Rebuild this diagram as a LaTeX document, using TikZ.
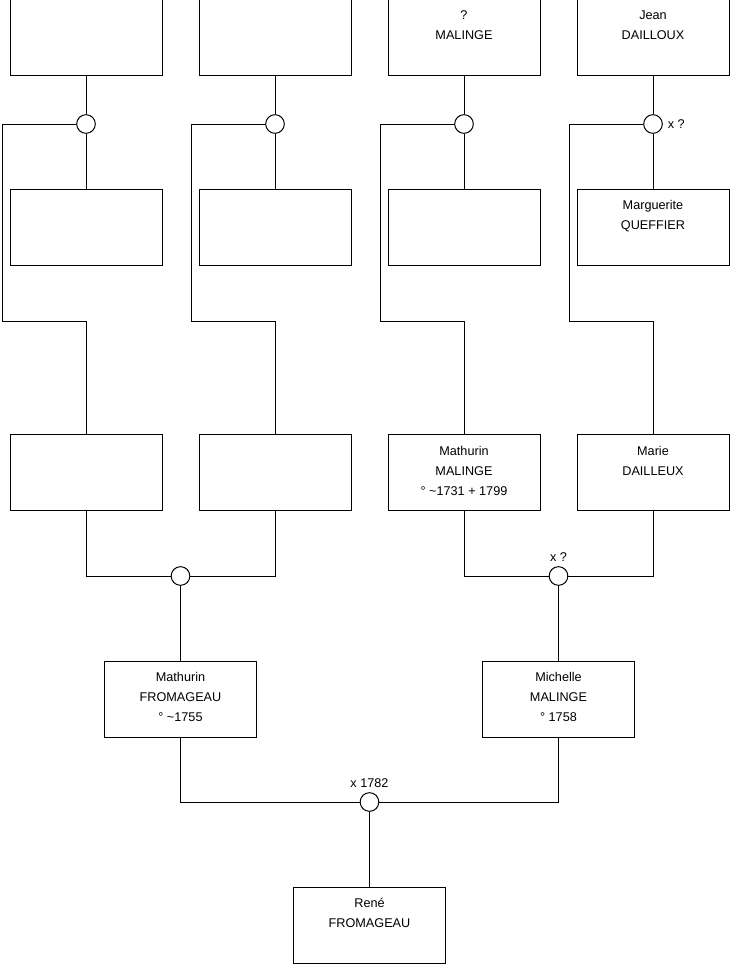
\documentclass[tikz,border=0pt]{standalone}
\usepackage{fontspec}
\setmainfont{Liberation Sans}
\usetikzlibrary{positioning}

\begin{document}
\begin{tikzpicture}[x=0.75pt, y=-0.75pt, line width=0.75pt,
    every node/.style={font=\fontsize{9.5}{15}\selectfont},
    persona/.style={draw, minimum width=114pt, minimum height=57pt, inner sep=0pt},
    testo/.style={anchor=north, align=center, inner sep=0pt, yshift=-8.5pt},
    unione/.style={draw, circle, fill=white, minimum size=14pt, inner sep=0pt}]
        \useasboundingbox (0,0) rectangle (740,975);
        % disegno prima riga
        \node[persona] (a1) at (86,37.5) {};
        \node[persona] (a2) at (275,37.5) {};
        \node[persona, label={[testo]north:?\\MALINGE}] (a3) at (464,37.5) {};
        \node[persona, label={[testo]north:Jean\\DAILLOUX}] (a4) at (653,37.5) {};
        % disegno seconda riga
        \node[persona] (b1) at (86,227) {};
        \node[persona] (b2) at (275,227) {};
        \node[persona] (b3) at (464,227) {};
        \node[persona, label={[testo]north:Marguerite\\QUEFFIER}] (b4) at (653,227) {};
        % disegno terza riga
        \node[persona] (c1) at (86,472.5) {};
        \node[persona] (c2) at (275,472.5) {};
        \node[persona, label={[testo]north:Mathurin\\MALINGE\\° \textasciitilde1731 + 1799}] (c3) at (464,472.5) {};
        \node[persona, label={[testo]north:Marie\\DAILLEUX}] (c4) at (653,472.5) {};
        % disegno genitori
        \node[persona, label={[testo]north:Mathurin\\FROMAGEAU\\° \textasciitilde1755}] (d1) at (180.5,699) {};
        \node[persona, label={[testo]north:Michelle\\MALINGE\\° 1758}] (d2) at (558.5,699) {};
        % disegno René
        \node[persona, label={[testo]north:René\\FROMAGEAU}] (e1) at (369.5,925) {};
        % disegno unioni
        \node[unione] (u1) at (86,124) {};
        \node[unione] (u2) at (275,124) {};
        \node[unione] (u3) at (464,124) {};
        \node[unione, label={right:x ?}] (u4) at (653,124) {};
        \node[unione] (u5) at (180.5,576) {};
        \node[unione, label={above:x ?}] (u6) at (558.5,576) {};
        \node[unione, label={above:x 1782}] (u7) at (369.5,802) {};
        % disegno legami in alto
        \foreach \p/\u/\f in {a1/u1/b1, a2/u2/b2, a3/u3/b3, a4/u4/b4} {
            \draw (\p.south) -- (\u.north);
            \draw (\u.south) -- (\f.north);
        }
        \draw (u1.west) -| (2,321) -| (c1.north);
        \draw (u2.west) -| (191,321) -| (c2.north);
        \draw (u3.west) -| (380,321) -| (c3.north);
        \draw (u4.west) -| (569,321) -| (c4.north);
        % disegno legami in basso
        \draw (c1.south) |- (u5.west);
        \draw (c2.south) |- (u5.east);
        \draw (c3.south) |- (u6.west);
        \draw (c4.south) |- (u6.east);
        \draw (u5.south) -- (d1.north);
        \draw (u6.south) -- (d2.north);
        \draw (d1.south) |- (u7.west);
        \draw (d2.south) |- (u7.east);
        \draw (u7.south) -- (e1.north);
    \end{tikzpicture}
\end{document}
